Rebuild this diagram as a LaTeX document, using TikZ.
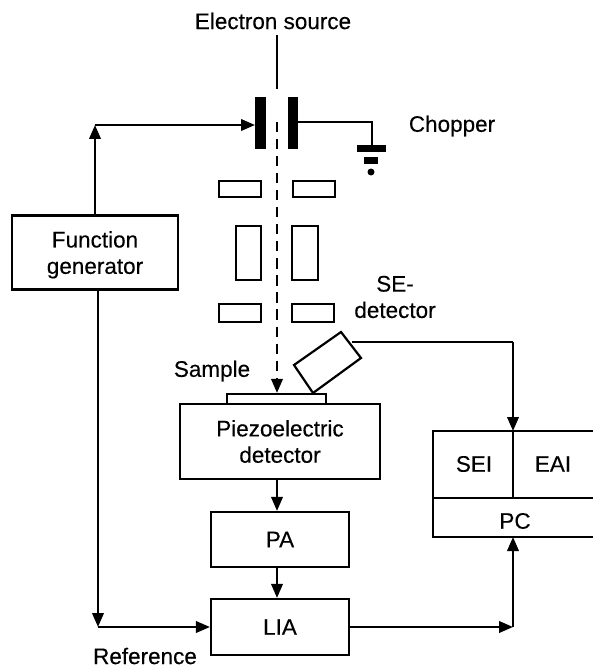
\documentclass[tikz,border=0pt]{standalone}
\usepackage{fontspec}
\setmainfont[FakeBold=0.25]{Liberation Sans}
\usetikzlibrary{arrows.meta}

\tikzset{
  box/.style={draw, line width=1.25pt, inner sep=0pt, align=center, font=\fontsize{12.8}{15}\selectfont},
  sig/.style={line width=1.25pt},
  tip/.style={-{Triangle[length=2.8mm, width=2.3mm]}},
  lbl/.style={inner sep=0pt, align=center, font=\fontsize{12.8}{15}\selectfont},
  plate/.style={fill=black, draw=none}
}

\begin{document}
\begin{tikzpicture}[x=0.02cm, y=-0.02cm]
\useasboundingbox (0,0) rectangle (592,669);

% chopper
\fill[plate] (255,97) rectangle (266,149);
\fill[plate] (288,97) rectangle (298,149);
\fill[plate] (357,145) rectangle (386,152);
\fill[plate] (364,157) rectangle (378,164);
\fill[plate] (371,172) circle (3.5);

\coordinate (PL) at (255,125);
\coordinate (PR) at (298,122);
\coordinate (G) at (372,122);
\coordinate (GT) at (372,145);
\coordinate (BT) at (277,35);
\coordinate (BM) at (277,89);
\coordinate (BD) at (277,122);
\coordinate (UP) at (95,125);
\coordinate (RF0) at (98,627);
\coordinate (SE0) at (352,342);
\coordinate (SE1) at (513,342);
\coordinate (OUT) at (513,627);

% lenses
\draw[sig] (219,181) rectangle (261,197);
\draw[sig] (293,181) rectangle (335,197);
\draw[sig] (236,226) rectangle (261,280);
\draw[sig] (292,226) rectangle (318,280);
\draw[sig] (219,304) rectangle (261,322);
\draw[sig] (292,304) rectangle (334,322);

% boxes
\node[box, minimum width=1.98cm, minimum height=0.2cm] (SP) at (276.5,399) {};
\node[box, minimum width=4cm, minimum height=1.5cm] (PZ) at (280,441.5) {Piezoelectric\\detector};
\node[box, minimum width=2.76cm, minimum height=1.1cm] (PA) at (280,539.5) {PA};
\node[box, minimum width=2.76cm, minimum height=1.12cm] (LIA) at (280,627) {LIA};
\node[box, minimum width=3.32cm, minimum height=1.48cm, text depth=0pt] (FG) at (95,252.5) {Function\\generator};
\draw[sig] (294,365) -- (341,332) -- (361,358) -- (313,393) -- cycle;

% PC block
\draw[sig] (433,431) rectangle (600,537);
\draw[sig] (433,498) -- (600,498);
\draw[sig] (513,431) -- (513,498);

% labels
\node[lbl] (ES) at (273,21) {Electron source};
\node[lbl] (CH) at (452,126) {Chopper};
\node[lbl] (SE) at (395,297) {SE-\\detector};
\node[lbl] (SA) at (212,371) {Sample};
\node[lbl] (SEI) at (474,464) {SEI};
\node[lbl] (EAI) at (553,464) {EAI};
\node[lbl] (PC) at (515,521) {PC};
\node[lbl] (RF) at (145,656) {Reference};

% wires
\draw[sig] (BT) -- (BM);
\draw[sig, dash pattern=on 5.8pt off 3.9pt, tip] (BD) -- (SP.north -| BD);
\draw[sig] (PR) -- (G) -- (GT);
\draw[sig, tip] (FG.north) -- (UP);
\draw[sig, tip] (UP) -- (PL);
\draw[sig, tip] (FG.south -| RF0) -- (RF0);
\draw[sig, tip] (RF0) -- (LIA.west);
\draw[sig, tip] (PZ.south -| BM) -- (PA.north -| BM);
\draw[sig, tip] (PA.south -| BM) -- (LIA.north -| BM);
\draw[sig] (SE0) -- (SE1);
\draw[sig, tip] (SE1) -- (513,431);
\draw[sig, tip] (LIA.east) -- (OUT);
\draw[sig, tip] (OUT) -- (513,537);
\end{tikzpicture}
\end{document}
